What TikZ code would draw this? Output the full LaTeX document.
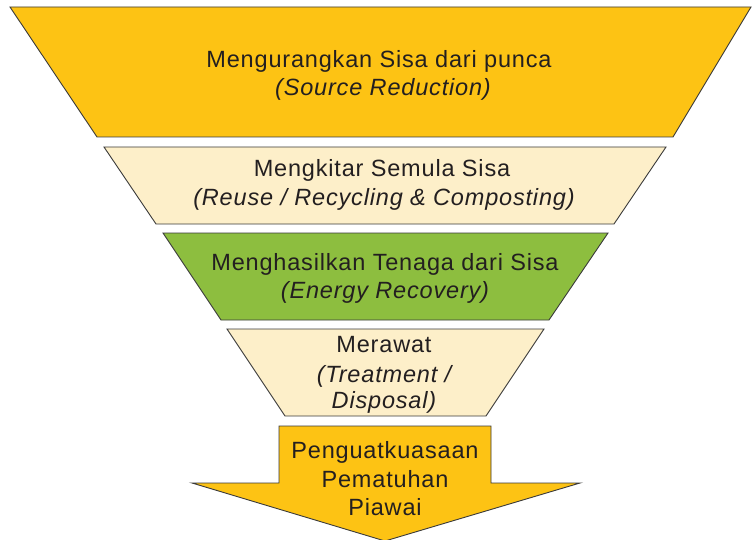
\documentclass[tikz,border=0pt]{standalone}
\usepackage{fontspec}
\setmainfont{Liberation Sans}[LetterSpace=3.5]
\definecolor{gold}{HTML}{FDC314}
\definecolor{cream}{HTML}{FDEFC9}
\definecolor{leaf}{HTML}{8DBE3F}
\definecolor{edge}{HTML}{3A3A3A}
\definecolor{ink}{HTML}{231F20}
\begin{document}
\begin{tikzpicture}[x=1pt,y=-1pt,
  band/.style={draw=edge,line width=0.9pt,line join=miter},
  lbl/.style={anchor=base,inner sep=0pt,text=ink,font=\fontsize{23.5}{27}\selectfont}]
\useasboundingbox (0,0) rectangle (752,540);
% level 1
\filldraw[band,fill=gold] (10,7) -- (751,7) -- (673,137) -- (97,137) -- cycle;
\node[lbl] (t1a) at (379,68) {Mengurangkan Sisa dari punca};
\node[lbl] (t1b) at (383,96) {\itshape (Source Reduction)};
% level 2
\filldraw[band,fill=cream] (104,147) -- (666,147) -- (614,224) -- (156,224) -- cycle;
\node[lbl] (t2a) at (382,177) {Mengkitar Semula Sisa};
\node[lbl] (t2b) at (384,206) {\itshape (Reuse / Recycling \& Composting)};
% level 3
\filldraw[band,fill=leaf] (163,233) -- (608,233) -- (549,320) -- (221,320) -- cycle;
\node[lbl] (t3a) at (385,270) {Menghasilkan Tenaga dari Sisa};
\node[lbl] (t3b) at (385,298) {\itshape (Energy Recovery)};
% level 4
\filldraw[band,fill=cream] (227,329) -- (544,329) -- (486,416) -- (285,416) -- cycle;
\node[lbl] (t4a) at (384,352) {Merawat};
\node[lbl] (t4b) at (384,382) {\itshape (Treatment /};
\node[lbl] (t4c) at (384,408) {\itshape Disposal)};
% arrow
\filldraw[band,fill=gold] (279,426) -- (491,426) -- (491,483) -- (580,483) -- (385,541) -- (192,483) -- (279,483) -- cycle;
\node[lbl] (t5a) at (385,458) {Penguatkuasaan};
\node[lbl] (t5b) at (385,487) {Pematuhan};
\node[lbl] (t5c) at (385,515) {Piawai};
\end{tikzpicture}
\end{document}
